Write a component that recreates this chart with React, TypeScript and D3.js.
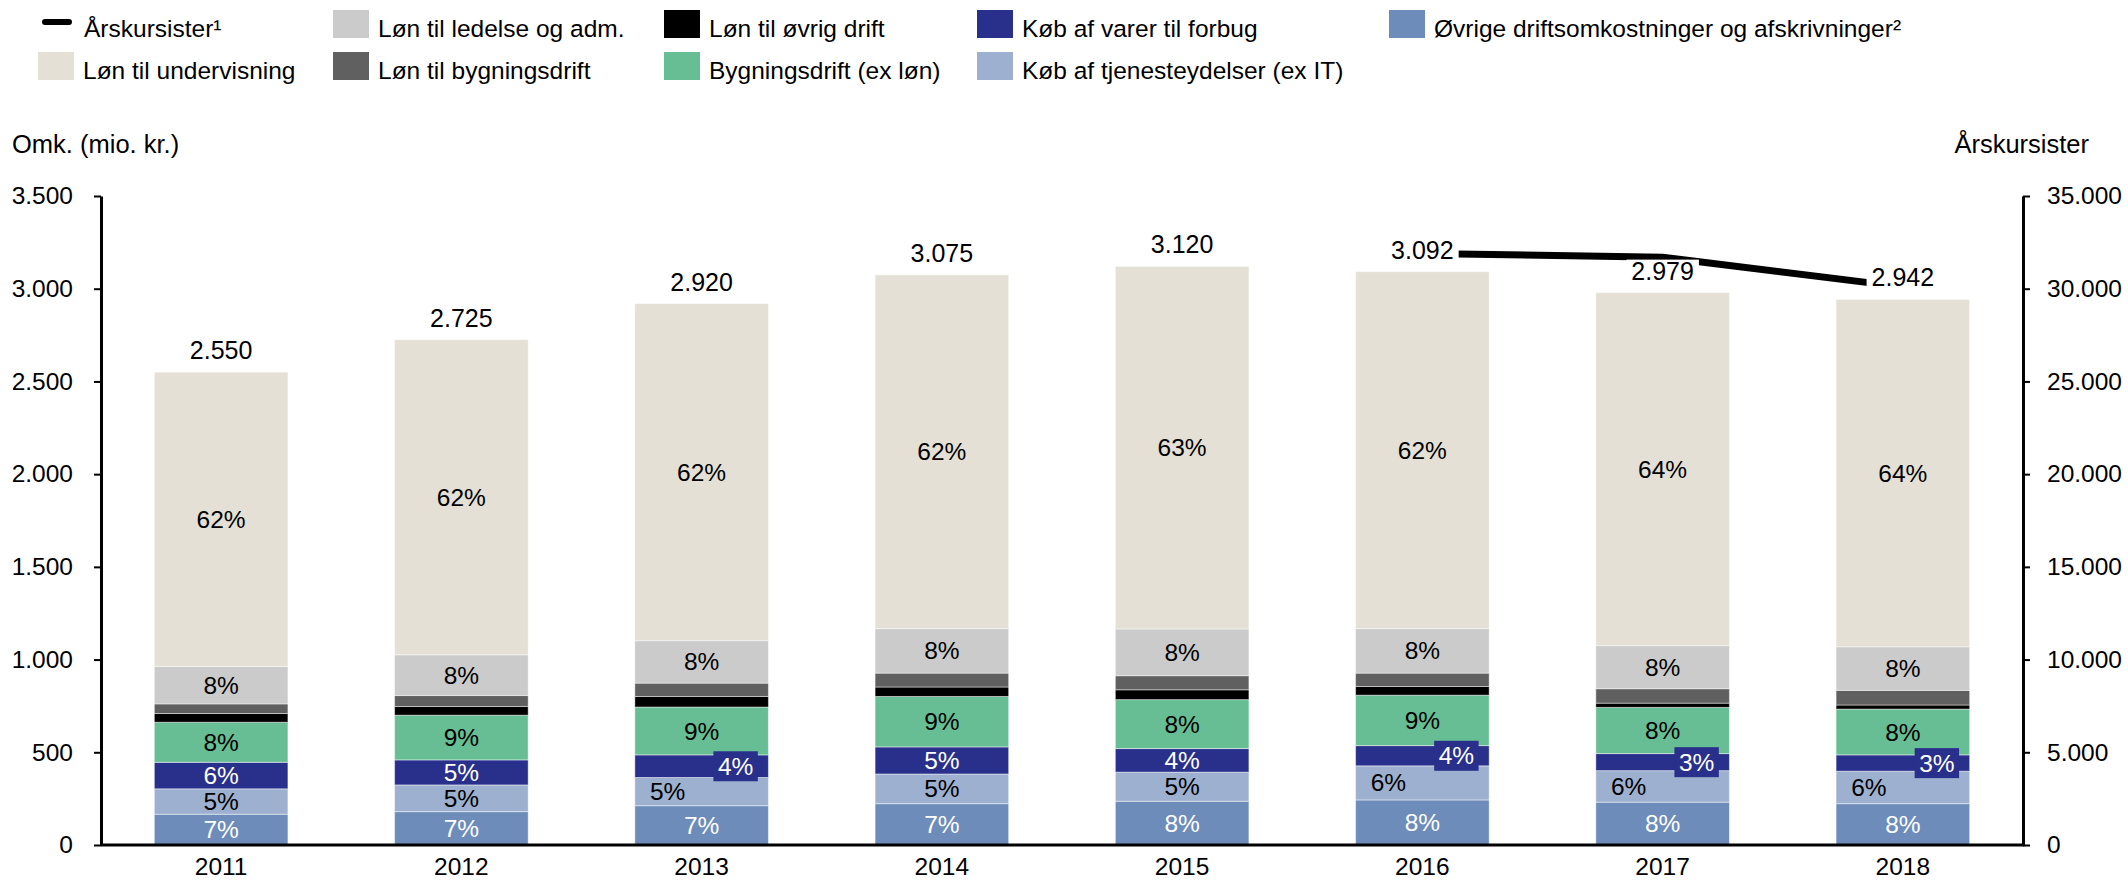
import React, { useEffect, useRef } from "react";
import * as d3 from "d3";

// ---------- DATA ----------
const years = ["2011", "2012", "2013", "2014", "2015", "2016", "2017", "2018"];

// stacked from the bottom upwards (mio. kr.)
const ovrigeDriftsomk = [166, 180, 212, 223, 236, 243, 231, 223];
const kobTjenester = [137, 144, 152, 160, 157, 184, 170, 175];
const kobVarer = [143, 135, 122, 146, 127, 109, 92, 88];
const bygningsdrift = [216, 241, 258, 272, 264, 272, 249, 247];
const lonOvrigDrift = [47, 47, 57, 51, 53, 47, 23, 22];
const lonBygningsdrift = [52, 59, 72, 75, 76, 72, 78, 79];
const lonLedelse = [202, 220, 229, 240, 252, 240, 232, 235];
const lonUndervisning = [1587, 1699, 1818, 1908, 1955, 1925, 1904, 1873];

// Årskursister (right axis)
const arskursister: (number | null)[] = [null, null, null, null, null, 31900, 31700, 30100];

const leftTicks = [0, 500, 1000, 1500, 2000, 2500, 3000, 3500];
const rightTicks = [0, 5000, 10000, 15000, 20000, 25000, 30000, 35000];

// years where the small-segment labels are moved aside
const shiftedLabelYears = ["2013", "2016", "2017", "2018"];

const series = [
  { key: "ovrige", name: "Øvrige driftsomkostninger og afskrivninger²", values: ovrigeDriftsomk, color: "#6D8CB9", label: "#FFFFFF" },
  { key: "tjenester", name: "Køb af tjenesteydelser (ex IT)", values: kobTjenester, color: "#9DB0CF", label: "#000000" },
  { key: "varer", name: "Køb af varer til forbug", values: kobVarer, color: "#29308B", label: "#FFFFFF" },
  { key: "bygning", name: "Bygningsdrift (ex løn)", values: bygningsdrift, color: "#67BE94", label: "#000000" },
  { key: "lonOvrig", name: "Løn til øvrig drift", values: lonOvrigDrift, color: "#000000", label: null },
  { key: "lonBygning", name: "Løn til bygningsdrift", values: lonBygningsdrift, color: "#606060", label: null },
  { key: "ledelse", name: "Løn til ledelse og adm.", values: lonLedelse, color: "#CBCBCB", label: "#000000" },
  { key: "undervisning", name: "Løn til undervisning", values: lonUndervisning, color: "#E4E0D6", label: "#000000" },
];

const legendRows = [
  ["line", "ledelse", "lonOvrig", "varer", "ovrige"],
  ["undervisning", "lonBygning", "bygning", "tjenester"],
];

const W = 2128;
const H = 881;
const FONT = "'Liberation Sans', Arial, Helvetica, sans-serif";

export default function App() {
  const ref = useRef<SVGSVGElement>(null);

  useEffect(() => {
    document.body.style.margin = "0";
    document.body.style.overflow = "hidden";
    const svg = d3.select(ref.current as SVGSVGElement);
    svg.selectAll("*").remove();
    svg.attr("font-family", FONT);

    const loc = d3.formatLocale({ decimal: ",", thousands: ".", grouping: [3], currency: ["", " kr."] });
    const fmt = loc.format(",d");

    const x = d3.scaleBand<string>().domain(years).range([101, 2023]).paddingInner(0.444).paddingOuter(0.222);
    const y = d3.scaleLinear().domain([0, 3500]).range([845, 196]);
    const yR = d3.scaleLinear().domain([0, 35000]).range([845, 196]);

    const rows = years.map((yr, i) => {
      const r: any = { year: yr };
      series.forEach((s) => (r[s.key] = s.values[i]));
      return r;
    });
    const totals = rows.map((r) => d3.sum(series, (s) => r[s.key]));
    const stacked = d3.stack<any>().keys(series.map((s) => s.key))(rows);

    // bars
    const gBars = svg.append("g");
    stacked.forEach((layer, li) => {
      const s = series[li];
      gBars
        .selectAll(null)
        .data(layer)
        .enter()
        .append("rect")
        .attr("x", (d: any) => x(d.data.year)!)
        .attr("width", x.bandwidth())
        .attr("y", (d: any) => y(d[1]))
        .attr("height", (d: any) => y(d[0]) - y(d[1]))
        .attr("fill", s.color)
        .attr("stroke", "#ffffff")
        .attr("stroke-opacity", 0.45)
        .attr("stroke-width", 1);
    });

    // percent labels
    const gLab = svg.append("g").attr("font-size", 24.5);
    stacked.forEach((layer, li) => {
      const s = series[li];
      if (!s.label) return;
      layer.forEach((d: any, i: number) => {
        const yr = d.data.year;
        const cx0 = x(yr)! + x.bandwidth() / 2;
        const shifted = shiftedLabelYears.includes(yr);
        let dx = 0;
        if (shifted && s.key === "varer") dx = 34;
        if (shifted && s.key === "tjenester") dx = -34;
        const cy = (y(d[0]) + y(d[1])) / 2;
        const txt = Math.round((s.values[i] / totals[i]) * 100) + "%";
        const g = gLab.append("g");
        const t = g
          .append("text")
          .attr("x", cx0 + dx)
          .attr("y", cy)
          .attr("dy", "0.35em")
          .attr("text-anchor", "middle")
          .attr("fill", s.label)
          .text(txt);
        if (shifted && s.key === "varer") {
          const bb = (t.node() as SVGTextElement).getBBox();
          g.insert("rect", "text")
            .attr("x", bb.x - 4.5)
            .attr("y", bb.y - 1.5)
            .attr("width", bb.width + 9)
            .attr("height", bb.height + 3)
            .attr("fill", s.color);
        }
      });
    });

    // axes
    const axL = svg
      .append("g")
      .attr("transform", "translate(101,0)")
      .call(d3.axisLeft(y).tickValues(leftTicks).tickFormat((v: any) => fmt(v)).tickSize(7).tickSizeOuter(0).tickPadding(21));
    const axR = svg
      .append("g")
      .attr("transform", "translate(2023,0)")
      .call(d3.axisRight(yR).tickValues(rightTicks).tickFormat((v: any) => fmt(v)).tickSize(7).tickSizeOuter(0).tickPadding(17));
    [axL, axR].forEach((ax) => {
      ax.attr("font-family", FONT).attr("font-size", 24.5);
      ax.select(".domain").attr("stroke", "#000").attr("stroke-width", 3);
      ax.selectAll(".tick line").attr("stroke", "#000").attr("stroke-width", 2);
      ax.selectAll(".tick text").attr("fill", "#000");
    });
    svg
      .append("line")
      .attr("x1", x.range()[0])
      .attr("x2", x.range()[1] + 1.5)
      .attr("y1", y(0))
      .attr("y2", y(0))
      .attr("stroke", "#000")
      .attr("stroke-width", 3);

    // year labels
    svg
      .append("g")
      .selectAll("text")
      .data(years)
      .enter()
      .append("text")
      .attr("x", (d) => x(d)! + x.bandwidth() / 2)
      .attr("y", 875)
      .attr("text-anchor", "middle")
      .attr("font-size", 24.5)
      .text((d) => d);

    // axis titles
    svg.append("text").attr("x", 12).attr("y", 153).attr("font-size", 25.5).text("Omk. (mio. kr.)");
    svg.append("text").attr("x", 2089).attr("y", 153).attr("font-size", 25.5).attr("text-anchor", "end").text("Årskursister");

    // Årskursister line
    const line = d3
      .line<number | null>()
      .defined((d) => d != null)
      .x((_, i) => x(years[i])! + x.bandwidth() / 2)
      .y((d) => yR(d as number));
    svg
      .append("path")
      .attr("d", line(arskursister))
      .attr("fill", "none")
      .attr("stroke", "#000")
      .attr("stroke-width", 7);

    // totals
    const gTot = svg.append("g").attr("font-size", 25);
    totals.forEach((tot, i) => {
      const g = gTot.append("g");
      const t = g
        .append("text")
        .attr("x", x(years[i])! + x.bandwidth() / 2)
        .attr("y", y(tot) - 13)
        .attr("text-anchor", "middle")
        .text(fmt(tot));
      const bb = (t.node() as SVGTextElement).getBBox();
      g.insert("rect", "text")
        .attr("x", bb.x - 5)
        .attr("y", bb.y + 3)
        .attr("width", bb.width + 10)
        .attr("height", bb.height - 3)
        .attr("fill", "#fff");
    });

    // legend
    const colX = [38, 333, 664, 977, 1389];
    const rowY = [10, 52];
    const gLeg = svg.append("g").attr("font-size", 24.5);
    legendRows.forEach((row, ri) => {
      row.forEach((key, ci) => {
        const gx = colX[ci];
        const gy = rowY[ri];
        if (key === "line") {
          gLeg
            .append("line")
            .attr("x1", gx + 7)
            .attr("x2", gx + 31)
            .attr("y1", gy + 12)
            .attr("y2", gy + 12)
            .attr("stroke", "#000")
            .attr("stroke-width", 6)
            .attr("stroke-linecap", "round");
          gLeg.append("text").attr("x", gx + 46).attr("y", gy + 26.5).text("Årskursister¹");
        } else {
          const s = series.find((q) => q.key === key)!;
          gLeg.append("rect").attr("x", gx).attr("y", gy).attr("width", 36).attr("height", 28).attr("fill", s.color);
          gLeg.append("text").attr("x", gx + 45).attr("y", gy + 26.5).text(s.name);
        }
      });
    });
  }, []);

  return (
    <svg
      ref={ref}
      width={W}
      height={H}
      style={{ display: "block", position: "absolute", left: 0, top: 0, background: "#fff" }}
    />
  );
}
